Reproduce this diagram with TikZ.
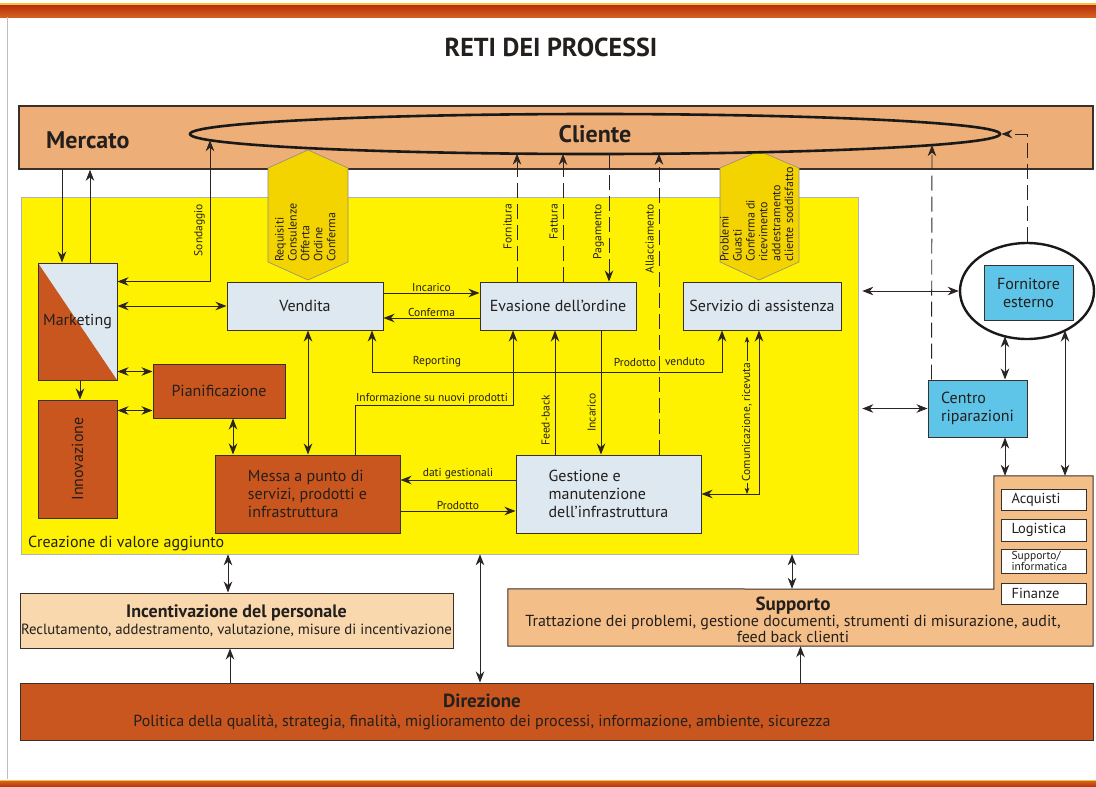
\documentclass[tikz,border=0pt]{standalone}
\usepackage{fontspec}
\setmainfont{PT Sans}
\usetikzlibrary{arrows.meta,shapes.geometric}

\definecolor{txtc}{HTML}{231F1C}
\definecolor{linec}{HTML}{2A2522}
\definecolor{bordc}{HTML}{3A302A}
\definecolor{mktc}{HTML}{EEAE78}
\definecolor{yelc}{HTML}{FFF200}
\definecolor{hexc}{HTML}{F4D400}
\definecolor{dorg}{HTML}{C9561E}
\definecolor{lblue}{HTML}{DDE8F1}
\definecolor{cyanc}{HTML}{5EC4E8}
\definecolor{supc}{HTML}{F4BE88}
\definecolor{incc}{HTML}{F9D8AE}
\definecolor{barA}{HTML}{B8300E}
\definecolor{barB}{HTML}{D4601E}
\definecolor{barY}{HTML}{F2C53A}

\begin{document}
\begin{tikzpicture}[x=1pt,y=-1pt,
  >={Stealth[length=11pt,width=8.5pt,inset=3.5pt]},
  conn/.style={draw=linec, line width=0.9pt},
  dconn/.style={conn, dash pattern=on 15pt off 6pt},
  thinconn/.style={draw=linec, line width=0.6pt, >={Stealth[length=6pt,width=4.5pt,inset=1.5pt]}},
  box/.style={draw=bordc, line width=1pt, inner sep=2pt, align=center, text=txtc, font=\fontsize{16}{18}\selectfont},
  bluebox/.style={box, fill=lblue},
  rustbox/.style={box, fill=dorg},
  cyanbox/.style={box, fill=cyanc},
  whitebox/.style={box, fill=white, font=\fontsize{14.5}{15}\selectfont, align=left, text width=64pt, inner xsep=10pt, inner ysep=0pt},
  lbl/.style={text=txtc, inner sep=1pt, font=\fontsize{11.5}{12}\selectfont},
  vlbl/.style={lbl, rotate=90, anchor=south east},
  hextxt/.style={text=txtc, inner sep=0pt, rotate=90, anchor=north west, align=left, font=\fontsize{12}{12.9}\selectfont},
  head/.style={text=txtc, font=\bfseries\fontsize{24}{26}\selectfont},
  hexshape/.style={fill=hexc, draw=black!45, line width=0.6pt},
]
\useasboundingbox (0,0) rectangle (1096,787);
\fill[white] (0,0) rectangle (1096,787);

% page rules
\fill[barY] (0,3) rectangle (1096,5);
\shade[top color=barA, bottom color=barB] (0,5) rectangle (1096,17);
\fill[barY] (0,779.5) rectangle (1096,781);
\shade[top color=barB, bottom color=barA] (0,781) rectangle (1096,787);
\draw[black!25, line width=0.8pt] (7,17) -- (7,779);

\node[text=txtc, font=\bfseries\fontsize{26}{28}\selectfont] (title) at (551,47) {RETI DEI PROCESSI};

% market band
\node[draw=bordc, line width=1.6pt, fill=mktc, minimum width=1074pt, minimum height=63pt, inner sep=0] (mercato) at (556,137.5) {};
\node[head, anchor=west, inner sep=0] (mercatotxt) at (46,140) {Mercato};

% value creation area
\node[draw=black!30, line width=0.6pt, fill=yelc, minimum width=837pt, minimum height=357pt, inner sep=0] (valore) at (439.5,375.5) {};
\node[text=txtc, font=\fontsize{16}{18}\selectfont, anchor=base west, inner sep=0] (valtxt) at (28,547) {Creazione di valore aggiunto};

% customer interface tags
\filldraw[hexshape] (268,168) -- (308,150) -- (348,168) -- (348,262) -- (308,280) -- (268,262) -- cycle;
\node[hextxt] (hexA) at (275,262) {Requisiti\\Consulenze\\Offerta\\Ordine\\Conferma};
\filldraw[hexshape] (720,168) -- (759,151) -- (799,168) -- (799,262) -- (759,280) -- (720,262) -- cycle;
\node[hextxt] (hexB) at (720,262) {Problemi\\Guasti\\Conferma di\\ricevimento\\addestramento\\cliente soddisfatto};

% customer
\node[ellipse, draw=black!90, line width=2.6pt, minimum width=810pt, minimum height=40pt, inner sep=0, head] (cliente) at (595,134) {Cliente};

% process boxes
\node[box, minimum width=79pt, minimum height=117pt, path picture={
    \fill[lblue] (path picture bounding box.north west) rectangle (path picture bounding box.south east);
    \fill[dorg] (path picture bounding box.north west) -- (path picture bounding box.south west) -- (path picture bounding box.south east) -- cycle;
  }] (marketing) at (77.5,321.5) {Marketing};
\node[rustbox, minimum width=79pt, minimum height=118pt] (innovazione) at (77.5,459) {\rotatebox{90}{Innovazione}};
\node[rustbox, minimum width=132pt, minimum height=54pt] (pianificazione) at (219,391) {Pianificazione};
\node[bluebox, minimum width=156pt, minimum height=48pt] (vendita) at (305,306) {Vendita};
\node[bluebox, minimum width=156pt, minimum height=48pt] (evasione) at (558,306) {Evasione dell'ordine};
\node[bluebox, minimum width=158pt, minimum height=48pt] (servizio) at (762,306) {Servizio di assistenza};
\node[rustbox, minimum width=185pt, minimum height=78pt, align=left] (messa) at (307.5,494) {Messa a punto di\\servizi, prodotti e\\infrastruttura};
\node[bluebox, minimum width=185pt, minimum height=78pt, align=left] (gestione) at (608.5,494) {Gestione e\\manutenzione\\dell'infrastruttura};

% external partners
\node[ellipse, draw=black!90, line width=2.4pt, minimum width=134pt, minimum height=96pt, fill=white, inner sep=0] (fornell) at (1027,291) {};
\node[cyanbox, minimum width=89pt, minimum height=55pt] (fornbox) at (1028.5,292.5) {Fornitore\\esterno};
\node[cyanbox, minimum width=99pt, minimum height=57pt, align=left] (centro) at (977.5,408.5) {Centro\\riparazioni};

% staff
\node[box, fill=incc, minimum width=433pt, minimum height=55pt, inner sep=1pt, font=\fontsize{14.8}{16}\selectfont] (incentiv) at (236.5,620.5)
  {{\bfseries\fontsize{18}{20}\selectfont Incentivazione del personale}\\[1pt]Reclutamento, addestramento, valutazione, misure di incentivazione};

% support (L-shaped)
\node[minimum width=585pt, minimum height=57pt, inner sep=0] (supporto) at (800.5,617.5) {};
\node[minimum width=99pt, minimum height=113pt, inner sep=0] (supext) at (1043.5,532.5) {};
\filldraw[fill=supc, draw=bordc, line width=1pt] (supporto.south west) -- (supporto.north west) -- (supext.south west)
  -- (supext.north west) -- (supext.north east) -- (supporto.south east) -- cycle;
\node[text=txtc, align=center, font=\fontsize{16}{16}\selectfont] (suptxt) at (793,620)
  {{\bfseries\fontsize{19}{18}\selectfont Supporto}\\Trattazione dei problemi, gestione documenti, strumenti di misurazione, audit,\\feed back clienti};
\node[whitebox, minimum width=85pt, minimum height=21pt] (acquisti) at (1043.5,499.5) {Acquisti};
\node[whitebox, minimum width=85pt, minimum height=22pt] (logistica) at (1043.5,530) {Logistica};
\node[whitebox, minimum width=85pt, minimum height=24pt, font=\fontsize{11.5}{9.5}\selectfont] (informatica) at (1043.5,561) {Supporto/\\informatica};
\node[whitebox, minimum width=85pt, minimum height=21pt] (finanze) at (1043.5,593.5) {Finanze};

% direction
\node[box, fill=dorg, minimum width=1073pt, minimum height=57pt] (direzione) at (556.5,711.5) {};
\node[text=txtc, align=center, font=\fontsize{16}{17}\selectfont] (dirtxt) at (482,712)
  {{\bfseries\fontsize{19}{18}\selectfont Direzione}\\[2pt]Politica della qualità, strategia, finalità, miglioramento dei processi, informazione, ambiente, sicurezza};

% ---------- connectors ----------
% market <-> marketing
\coordinate (mk1) at ([xshift=-15.5pt]marketing.north);
\coordinate (mk2) at ([xshift=12.5pt]marketing.north);
\draw[conn,->] (mk1 |- mercato.south) -- (mk1);
\draw[conn,->] (mk2) -- (mk2 |- mercato.south);

% survey
\coordinate (cl1) at ([shift={(-385,6.2)}]cliente.center);
\draw[conn,<->] (cl1) |- ([yshift=-19pt]marketing.north east);
\node[vlbl] (lsond) at (206,203) {Sondaggio};

% marketing links
\draw[conn,<->] (vendita.west -| marketing.east) -- (vendita.west);
\draw[conn,->] ([xshift=2.5pt]marketing.south) -- ([xshift=2.5pt]innovazione.north);
\coordinate (pl1) at ([yshift=-8pt]pianificazione.north west);
\coordinate (pl2) at ([yshift=8pt]pianificazione.south west);
\coordinate (pl3) at ([xshift=14pt]pianificazione.south);
\draw[conn,<->] (pl1 -| marketing.east) -- (pl1);
\draw[conn,<->] (pl2 -| innovazione.east) -- (pl2);
\draw[conn,<->] (pl3) -- (pl3 |- messa.north);

% sales <-> development
\coordinate (ve1) at ([xshift=3pt]vendita.south);
\draw[conn,<->] (ve1) -- (ve1 |- messa.north);

% order flow
\coordinate (ev1) at ([yshift=13pt]evasione.west);
\coordinate (ev2) at ([yshift=-12pt]evasione.west);
\draw[conn,->] (ev1 -| vendita.east) -- node[lbl, above] (linc) {Incarico} (ev1);
\draw[conn,->] (ev2) -- node[lbl, above] (lconf) {Conferma} (ev2 -| vendita.east);

% reporting / sold product
\coordinate (ve2) at ([xshift=67pt]vendita.south);
\coordinate (se1) at ([xshift=-40pt]servizio.south);
\draw[conn,<->] (ve2) -- ++(0,42) -| (se1);
\node[lbl] (lrep) at (437,362) {Reporting};
\node[lbl] (lprd) at (635,362) {Prodotto};
\node[lbl] (lven) at (685,362) {venduto};

% new product information
\coordinate (me1) at ([xshift=47.5pt]messa.north);
\coordinate (ev3) at ([xshift=-45pt]evasione.south);
\draw[conn,->] (me1) -- ++(0,-49) -| (ev3);
\node[lbl, anchor=south] (linfo) at (432,405) {Informazione su nuovi prodotti};

% feed-back and order to maintenance
\coordinate (ev4) at ([xshift=-3pt]evasione.south);
\coordinate (ev5) at ([xshift=43pt]evasione.south);
\draw[conn,->] (ev4 |- gestione.north) -- (ev4);
\draw[conn,->] (ev5) -- (ev5 |- gestione.north);
\node[vlbl] (lfeed) at (551,394) {Feed-back};
\node[vlbl] (lincv) at (597,392) {Incarico};

% development <-> maintenance
\coordinate (ge1) at ([yshift=14pt]gestione.west);
\coordinate (ge2) at ([yshift=-17pt]gestione.west);
\draw[conn,->] (ge1) -- node[lbl, above] (ldati) {dati gestionali} (ge1 -| messa.east);
\draw[conn,->] (ge2 -| messa.east) -- node[lbl, above] (lprod) {Prodotto} (ge2);

% service <-> maintenance
\coordinate (se2) at ([xshift=-3pt]servizio.south);
\draw[conn,<->] (se2) |- (gestione.east);
\coordinate (se3) at ([shift={(-15,6)}]servizio.south);
\draw[thinconn,<->] (se3) -- (se3 |- gestione.east);
\node[lbl, rotate=90, fill=yelc] (lcom) at (747,422) {Comunicazione, ricevuta};

% customer flows
\coordinate (cl2) at ([shift={(-78,19.6)}]cliente.center);
\coordinate (cl3) at ([shift={(-32,19.9)}]cliente.center);
\coordinate (cl4) at ([shift={(14,20)}]cliente.center);
\coordinate (cl5) at ([shift={(64,19.7)}]cliente.center);
\coordinate (cl6) at ([shift={(337,11.1)}]cliente.center);
\coordinate (ev6) at ([xshift=-41pt]evasione.north);
\coordinate (ev7) at ([xshift=5pt]evasione.north);
\coordinate (ev8) at ([xshift=51pt]evasione.north);
\coordinate (ge3) at ([xshift=50.5pt]gestione.north);
\draw[dconn,->] (ev6) -- (cl2);
\draw[dconn,->] (ev7) -- (cl3);
\draw[dconn,->] (cl4) -- (ev8);
\draw[dconn,->] (ge3) -- (cl5);
\node[vlbl] (lforn) at (513,203) {Fornitura};
\node[vlbl] (lfatt) at (559,203) {Fattura};
\node[vlbl] (lpag) at (605,203) {Pagamento};
\node[vlbl] (lall) at (655,203) {Allacciamento};

% external partners
\draw[conn,<->, shorten <=4pt] (fornell.west -| valore.east) -- (fornell.west);
\draw[conn,<->, shorten <=4pt] (centro.west -| valore.east) -- (centro.west);
\coordinate (ce1) at ([xshift=4pt]centro.north west);
\draw[dconn,->] (ce1) -- (cl6);
\draw[dconn,->] (fornell.north) |- (cliente.east);
\coordinate (fe1) at ([shift={(-22,45.3)}]fornell.center);
\coordinate (fe2) at ([shift={(38,39.5)}]fornell.center);
\coordinate (ce2) at ([xshift=27.5pt]centro.south);
\draw[conn,<->] (fe1) -- (fe1 |- centro.north);
\draw[conn,<->] (ce2) -- (ce2 |- supext.north);
\draw[conn,<->] (fe2) -- (fe2 |- supext.north);

% support, staff and direction
\coordinate (sp1) at ([xshift=-8.5pt]supporto.north);
\draw[conn,<->] (sp1 |- valore.south) -- (sp1);
\draw[conn,->] (direzione.north -| supporto.south) -- (supporto.south);
\coordinate (in1) at ([xshift=-8.5pt]incentiv.north);
\coordinate (in2) at ([xshift=-6.5pt]incentiv.south);
\draw[conn,<->] (in1 |- valore.south) -- (in1);
\draw[conn,->] (in2 |- direzione.north) -- (in2);
\coordinate (di1) at ([xshift=-76.5pt]direzione.north);
\draw[conn,<->] (di1) -- (di1 |- valore.south);
\end{tikzpicture}
\end{document}
